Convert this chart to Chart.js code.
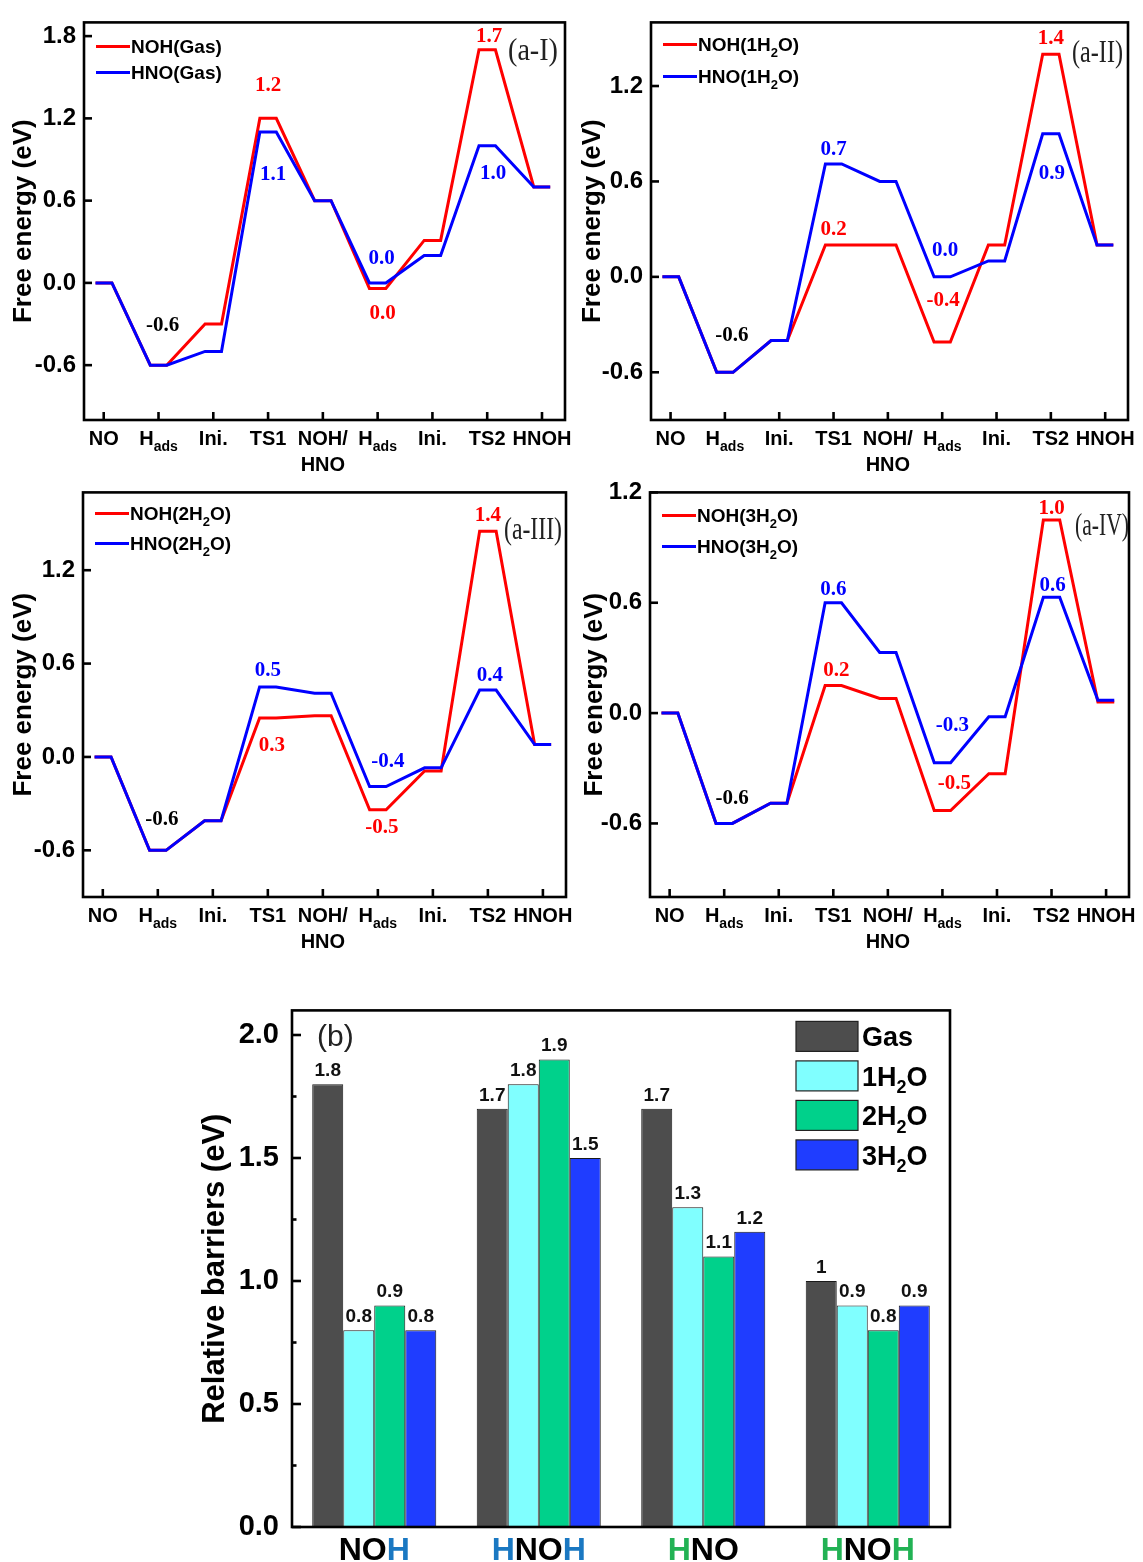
<!DOCTYPE html>
<html>
<head>
<meta charset="utf-8">
<script src="https://cdn.jsdelivr.net/npm/chart.js@4.4.0/dist/chart.umd.min.js"></script>
<style>
  html, body { margin: 0; padding: 0; background: #fff; }
  body { width: 1143px; height: 1562px; position: relative; overflow: hidden; }
  canvas { position: absolute; }
</style>
</head>
<body>
<canvas id="p1"></canvas>
<canvas id="p2"></canvas>
<canvas id="p3"></canvas>
<canvas id="p4"></canvas>
<canvas id="pb"></canvas>
<script>
// ---------- data ----------
const stateLabels = ['NO', 'H_{ads}', 'Ini.', 'TS1', 'NOH/\nHNO', 'H_{ads}', 'Ini.', 'TS2', 'HNOH'];
const stateIndex = [0, 1, 2, 3, 4, 5, 6, 7, 8];
const energyTicks = [-0.6, 0, 0.6, 1.2, 1.8];

const nohGas = [0, -0.6, -0.3, 1.2, 0.6, -0.04, 0.31, 1.7, 0.7];
const hnoGas = [0, -0.6, -0.5, 1.1, 0.6, 0.0, 0.2, 1.0, 0.7];
const noh1W  = [0, -0.6, -0.4, 0.2, 0.2, -0.41, 0.2, 1.4, 0.2];
const hno1W  = [0, -0.6, -0.4, 0.71, 0.6, 0.0, 0.1, 0.9, 0.2];
const noh2W  = [0, -0.6, -0.41, 0.25, 0.265, -0.34, -0.09, 1.45, 0.08];
const hno2W  = [0, -0.6, -0.41, 0.45, 0.41, -0.19, -0.07, 0.43, 0.08];
const noh3W  = [0, -0.6, -0.49, 0.15, 0.08, -0.53, -0.33, 1.05, 0.06];
const hno3W  = [0, -0.6, -0.49, 0.6, 0.33, -0.27, -0.02, 0.63, 0.07];

const barCategories = ['NOH', 'HNOH', 'HNO', 'HNOH'];
const barSeriesNames = ['Gas', '1H_{2}O', '2H_{2}O', '3H_{2}O'];
const barGas = [1.8, 1.7, 1.7, 1.0];
const bar1W  = [0.8, 1.8, 1.3, 0.9];
const bar2W  = [0.9, 1.9, 1.1, 0.8];
const bar3W  = [0.8, 1.5, 1.2, 0.9];
const barTicks = [0, 0.5, 1.0, 1.5, 2.0];
const barMinorTicks = [0.25, 0.75, 1.25, 1.75];

// colours
const RED = '#ff0000', BLUE = '#0000ff', BLK = '#000000';
const H_BLUE = '#1a78c2', H_GREEN = '#22b254';
const barColors = ['#4d4d4d', '#80ffff', '#00d18b', '#1f3dff'];
// coloured pieces of the bar-chart category names
const barCategoryParts = [
  [['NO', BLK], ['H', H_BLUE]],
  [['H', H_BLUE], ['NO', BLK], ['H', H_BLUE]],
  [['H', H_GREEN], ['NO', BLK]],
  [['H', H_GREEN], ['NO', BLK], ['H', H_GREEN]]
];

const SANS = "'Liberation Sans', Arial, sans-serif";
const SERIF = "'Liberation Serif', 'Times New Roman', serif";
Chart.defaults.font.family = SANS;
Chart.defaults.color = '#000';

// ---------- helpers ----------
function richParts(str) {
  const parts = [];
  const re = /_\{([^}]*)\}/g;
  let last = 0, m;
  while ((m = re.exec(str))) {
    if (m.index > last) parts.push({ t: str.slice(last, m.index), sub: false });
    parts.push({ t: m[1], sub: true });
    last = re.lastIndex;
  }
  if (last < str.length) parts.push({ t: str.slice(last), sub: false });
  return parts;
}

// draws text with _{sub} parts; y is the baseline
function drawRich(ctx, str, x, y, size, family, weight, align, color) {
  const parts = richParts(str);
  const subSize = Math.round(size * 0.68);
  let w = 0;
  parts.forEach(p => {
    ctx.font = `${weight} ${p.sub ? subSize : size}px ${family}`;
    p.w = ctx.measureText(p.t).width;
    w += p.w;
  });
  let cx = align === 'center' ? x - w / 2 : align === 'right' ? x - w : x;
  ctx.textAlign = 'left';
  ctx.textBaseline = 'alphabetic';
  ctx.fillStyle = color;
  parts.forEach(p => {
    ctx.font = `${weight} ${p.sub ? subSize : size}px ${family}`;
    ctx.fillText(p.t, cx, y + (p.sub ? size * 0.28 : 0));
    cx += p.w;
  });
}

function line(ctx, x1, y1, x2, y2) {
  ctx.beginPath(); ctx.moveTo(x1, y1); ctx.lineTo(x2, y2); ctx.stroke();
}

// each state is a short flat level, joined by slanted lines
function steps(values) {
  const pts = [];
  values.forEach((v, i) => {
    pts.push({ x: stateIndex[i] - 0.15, y: v });
    pts.push({ x: stateIndex[i] + 0.15, y: v });
  });
  return pts;
}

// frame, inward ticks, custom labels, legend and notes
const panelPlugin = {
  id: 'panel',
  afterDatasetsDraw(chart, args, o) {
    const ctx = chart.ctx, a = chart.chartArea;
    const xs = chart.scales.x, ys = chart.scales.y;
    ctx.save();
    ctx.strokeStyle = '#000';
    ctx.lineWidth = 2.6;
    ctx.lineCap = 'butt';
    ctx.strokeRect(a.left, a.top, a.right - a.left, a.bottom - a.top);

    (o.xTicks || []).forEach(v => {
      const px = xs.getPixelForValue(v);
      line(ctx, px, a.bottom, px, a.bottom - o.tickLen);
    });
    ys.ticks.forEach(t => {
      const py = ys.getPixelForValue(t.value);
      line(ctx, a.left, py, a.left + o.tickLen, py);
    });
    (o.minorY || []).forEach(v => {
      const py = ys.getPixelForValue(v);
      line(ctx, a.left, py, a.left + o.tickLen / 2, py);
    });

    // x labels of the energy panels
    (o.xLabels || []).forEach((lab, i) => {
      const px = xs.getPixelForValue(stateIndex[i]);
      lab.split('\n').forEach((ln, k) => {
        drawRich(ctx, ln, px, a.bottom + 25 + k * 26, 20, SANS, 'bold', 'center', '#000');
      });
    });

    // coloured category names of the bar chart
    (o.catParts || []).forEach((parts, i) => {
      const px = xs.getPixelForValue(i);
      ctx.font = `bold 32px ${SANS}`;
      let w = 0;
      parts.forEach(p => { w += ctx.measureText(p[0]).width; });
      let cx = px - w / 2;
      ctx.textAlign = 'left';
      ctx.textBaseline = 'alphabetic';
      parts.forEach(p => {
        ctx.fillStyle = p[1];
        ctx.fillText(p[0], cx, a.bottom + 33);
        cx += ctx.measureText(p[0]).width;
      });
    });

    // line legend (energy panels)
    if (o.legendY) {
      chart.data.datasets.forEach((ds, k) => {
        const y = a.top + o.legendY[k];
        ctx.strokeStyle = ds.borderColor;
        ctx.lineWidth = 3;
        line(ctx, a.left + 12, y, a.left + 46, y);
        drawRich(ctx, ds.label, a.left + 47, y + 7, 19, SANS, 'bold', 'left', '#000');
      });
    }

    // box legend (bar chart)
    if (o.boxLegend) {
      chart.data.datasets.forEach((ds, k) => {
        const bx = a.right - 154, by = a.top + 11 + k * 39.5;
        ctx.fillStyle = ds.backgroundColor;
        ctx.fillRect(bx, by, 62, 30);
        ctx.strokeStyle = '#222';
        ctx.lineWidth = 1.2;
        ctx.strokeRect(bx, by, 62, 30);
        drawRich(ctx, ds.label, bx + 66, by + 25, 27, SANS, 'bold', 'left', '#000');
      });
    }

    // bar value labels
    if (o.barValues) {
      ctx.font = `bold 19px ${SANS}`;
      ctx.textAlign = 'center';
      ctx.textBaseline = 'bottom';
      ctx.fillStyle = '#111';
      chart.data.datasets.forEach((ds, k) => {
        chart.getDatasetMeta(k).data.forEach((el, i) => {
          ctx.fillText(String(ds.data[i]), el.x, el.y - 4);
        });
      });
    }

    // value notes
    if (o.notes) {
      ctx.font = `bold 21px ${SERIF}`;
      ctx.textAlign = 'center';
      ctx.textBaseline = 'middle';
      o.notes.forEach(n => {
        const vals = o.series[n.s];
        const px = xs.getPixelForValue(stateIndex[n.i]) + n.dx;
        const py = ys.getPixelForValue(vals[n.i]) + n.dy;
        ctx.fillStyle = n.c;
        ctx.fillText(n.t, px, py);
      });
    }

    // panel tag, squeezed horizontally like the narrow original glyphs
    if (o.tag) {
      ctx.font = o.tagFont;
      ctx.fillStyle = '#222';
      ctx.textBaseline = 'middle';
      ctx.textAlign = 'left';
      const w = ctx.measureText(o.tag).width;
      const sx = o.tagWidth ? o.tagWidth / w : 1;
      const left = o.tagAlign === 'right' ? a.right - o.tagRight - w * sx : a.left + 25;
      ctx.translate(left, a.top + o.tagY);
      ctx.scale(sx, 1);
      ctx.fillText(o.tag, 0, 0);
    }
    ctx.restore();
  }
};

function place(canvas, box) {
  canvas.width = box[2];
  canvas.height = box[3];
  canvas.style.left = box[0] + 'px';
  canvas.style.top = box[1] + 'px';
  canvas.style.width = box[2] + 'px';
  canvas.style.height = box[3] + 'px';
}

function energyPanel(id, box, area, yRange, red, blue, names, tag, notes, look) {
  const canvas = document.getElementById(id);
  place(canvas, box);
  new Chart(canvas, {
    type: 'scatter',
    data: {
      datasets: [
        { label: names[0], data: steps(red), showLine: true, borderColor: RED, borderWidth: 3,
          pointRadius: 0, order: 2 },
        { label: names[1], data: steps(blue), showLine: true, borderColor: BLUE, borderWidth: 3,
          pointRadius: 0, order: 1 }
      ]
    },
    options: {
      responsive: false,
      animation: false,
      devicePixelRatio: 1,
      events: [],
      layout: { padding: { left: 0, top: area[1] - box[1], right: box[0] + box[2] - area[2], bottom: 0 } },
      plugins: {
        legend: { display: false },
        tooltip: { enabled: false },
        panel: {
          xTicks: stateIndex, tickLen: 8, xLabels: stateLabels,
          legendY: look.legendY, notes: notes, series: [red, blue],
          tag: tag, tagY: look.tagY, tagAlign: 'right', tagRight: look.tagRight,
          tagWidth: look.tagWidth, tagFont: `32px ${SERIF}`
        }
      },
      scales: {
        x: {
          type: 'linear', min: -0.36, max: 8.42,
          grid: { display: false, drawTicks: false }, border: { display: false },
          ticks: { display: false },
          afterFit(s) { s.height = box[1] + box[3] - area[3]; }
        },
        y: {
          min: yRange[0], max: yRange[1],
          grid: { display: false, drawTicks: false }, border: { display: false },
          afterBuildTicks(s) {
            s.ticks = energyTicks.filter(v => v >= yRange[0] && v <= yRange[1]).map(v => ({ value: v }));
          },
          ticks: { font: { size: 24, weight: 'bold' }, color: '#000', padding: 8,
                   callback: v => v.toFixed(1) },
          title: { display: true, text: 'Free energy (eV)', color: '#000',
                   font: { size: 26, weight: 'bold' }, padding: { top: look.titlePad, bottom: 0 } },
          afterFit(s) { s.width = area[0] - box[0]; }
        }
      }
    },
    plugins: [panelPlugin]
  });
}

// ---------- energy profiles ----------
energyPanel('p1', [0, 0, 575, 482], [84, 13, 565, 420], [-1.0, 1.9], nohGas, hnoGas,
  ['NOH(Gas)', 'HNO(Gas)'], '(a-I)', [
    { s: 1, i: 1, t: '-0.6', c: BLK, dx: 4, dy: -40 },
    { s: 0, i: 3, t: '1.2', c: RED, dx: 0, dy: -33 },
    { s: 1, i: 3, t: '1.1', c: BLUE, dx: 5, dy: 42 },
    { s: 1, i: 5, t: '0.0', c: BLUE, dx: 4, dy: -24 },
    { s: 0, i: 5, t: '0.0', c: RED, dx: 5, dy: 25 },
    { s: 0, i: 7, t: '1.7', c: RED, dx: 2, dy: -13 },
    { s: 1, i: 7, t: '1.0', c: BLUE, dx: 6, dy: 28 }
  ], { tagY: 29, tagRight: 7, tagWidth: 50, legendY: [24, 50], titlePad: 8 });

energyPanel('p2', [575, 0, 568, 482], [651, 13, 1128, 420], [-0.9, 1.6], noh1W, hno1W,
  ['NOH(1H_{2}O)', 'HNO(1H_{2}O)'], '(a-II)', [
    { s: 1, i: 1, t: '-0.6', c: BLK, dx: 7, dy: -37 },
    { s: 1, i: 3, t: '0.7', c: BLUE, dx: 0, dy: -14 },
    { s: 0, i: 3, t: '0.2', c: RED, dx: 0, dy: -15 },
    { s: 1, i: 5, t: '0.0', c: BLUE, dx: 3, dy: -26 },
    { s: 0, i: 5, t: '-0.4', c: RED, dx: 1, dy: -41 },
    { s: 0, i: 7, t: '1.4', c: RED, dx: 0, dy: -16 },
    { s: 1, i: 7, t: '0.9', c: BLUE, dx: 1, dy: 40 }
  ], { tagY: 31, tagRight: 5, tagWidth: 51, legendY: [22, 54], titlePad: 2 });

energyPanel('p3', [0, 470, 575, 490], [83, 482, 566, 897], [-0.9, 1.7], noh2W, hno2W,
  ['NOH(2H_{2}O)', 'HNO(2H_{2}O)'], '(a-III)', [
    { s: 1, i: 1, t: '-0.6', c: BLK, dx: 4, dy: -31 },
    { s: 1, i: 3, t: '0.5', c: BLUE, dx: 0, dy: -16 },
    { s: 0, i: 3, t: '0.3', c: RED, dx: 4, dy: 28 },
    { s: 1, i: 5, t: '-0.4', c: BLUE, dx: 10, dy: -25 },
    { s: 0, i: 5, t: '-0.5', c: RED, dx: 4, dy: 18 },
    { s: 0, i: 7, t: '1.4', c: RED, dx: 0, dy: -16 },
    { s: 1, i: 7, t: '0.4', c: BLUE, dx: 2, dy: -14 }
  ], { tagY: 38, tagRight: 4, tagWidth: 58, legendY: [21, 51], titlePad: 8 });

energyPanel('p4', [575, 470, 568, 490], [650, 484, 1129, 897], [-1.0, 1.2], noh3W, hno3W,
  ['NOH(3H_{2}O)', 'HNO(3H_{2}O)'], '(a-IV)', [
    { s: 1, i: 1, t: '-0.6', c: BLK, dx: 8, dy: -25 },
    { s: 1, i: 3, t: '0.6', c: BLUE, dx: 0, dy: -13 },
    { s: 0, i: 3, t: '0.2', c: RED, dx: 3, dy: -15 },
    { s: 1, i: 5, t: '-0.3', c: BLUE, dx: 10, dy: -37 },
    { s: 0, i: 5, t: '-0.5', c: RED, dx: 12, dy: -27 },
    { s: 0, i: 7, t: '1.0', c: RED, dx: 0, dy: -11 },
    { s: 1, i: 7, t: '0.6', c: BLUE, dx: 1, dy: -12 }
  ], { tagY: 34, tagRight: 0, tagWidth: 54, legendY: [23, 54], titlePad: 4 });

// ---------- relative barriers ----------
(function () {
  const box = [180, 980, 963, 582], area = [292, 997, 950, 1527];
  const canvas = document.getElementById('pb');
  place(canvas, box);
  const series = [barGas, bar1W, bar2W, bar3W];
  new Chart(canvas, {
    type: 'bar',
    data: {
      labels: barCategories,
      datasets: series.map((d, k) => ({
        label: barSeriesNames[k], data: d,
        backgroundColor: barColors[k], borderColor: '#1a1a1a', borderWidth: 1
      }))
    },
    options: {
      responsive: false,
      animation: false,
      devicePixelRatio: 1,
      events: [],
      datasets: { bar: { categoryPercentage: 0.754, barPercentage: 1.0 } },
      layout: { padding: { left: 0, top: area[1] - box[1], right: box[0] + box[2] - area[2], bottom: 0 } },
      plugins: {
        legend: { display: false },
        tooltip: { enabled: false },
        panel: {
          tickLen: 9, minorY: barMinorTicks, catParts: barCategoryParts,
          boxLegend: true, barValues: true,
          tag: '(b)', tagY: 27, tagAlign: 'left', tagFont: `30px ${SANS}`
        }
      },
      scales: {
        x: {
          grid: { display: false, drawTicks: false }, border: { display: false },
          ticks: { display: false },
          afterFit(s) { s.height = box[1] + box[3] - area[3]; }
        },
        y: {
          min: 0, max: 2.1,
          grid: { display: false, drawTicks: false }, border: { display: false },
          afterBuildTicks(s) { s.ticks = barTicks.map(v => ({ value: v })); },
          ticks: { font: { size: 29, weight: 'bold' }, color: '#000', padding: 13,
                   callback: v => v.toFixed(1) },
          title: { display: true, text: 'Relative barriers (eV)', color: '#000',
                   font: { size: 31, weight: 'bold' }, padding: { top: 17, bottom: 0 } },
          afterFit(s) { s.width = area[0] - box[0]; }
        }
      }
    },
    plugins: [panelPlugin]
  });
})();
</script>
</body>
</html>
